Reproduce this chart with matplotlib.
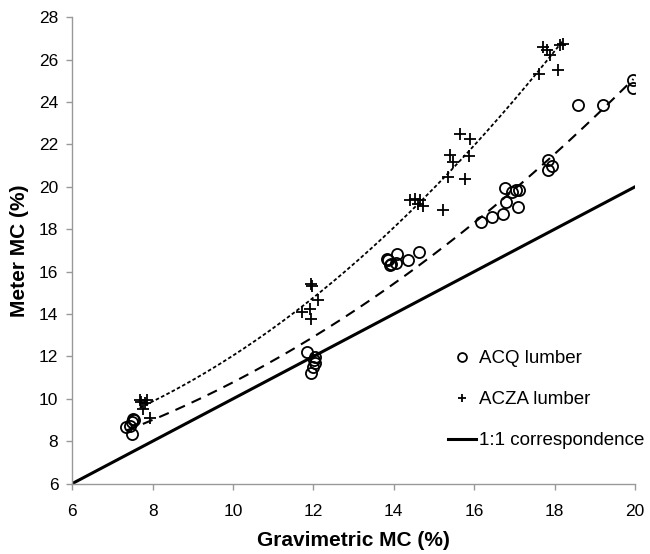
import numpy as np
import matplotlib
matplotlib.use("Agg")
import matplotlib.pyplot as plt

plt.rcParams['font.family'] = ['Liberation Sans', 'DejaVu Sans']

# ACQ treated lumber: gravimetric vs meter moisture content
acq_x = [7.35, 7.43, 7.50, 7.52, 7.55, 7.48,
         11.83, 11.95, 12.00, 12.03, 12.05, 12.02,
         13.82, 13.86, 13.94, 14.05, 14.07, 14.36, 14.62, 13.90,
         16.18, 16.43, 16.72, 16.76, 16.80, 16.93, 17.05, 17.10, 17.12,
         17.84, 17.93, 17.84, 18.59, 19.20, 19.96, 19.96]
acq_y = [8.67, 8.70, 8.36, 9.07, 9.00, 8.90,
         12.21, 11.22, 11.50, 11.70, 11.97, 11.85,
         16.61, 16.57, 16.38, 16.41, 16.85, 16.53, 16.93, 16.30,
         18.34, 18.58, 18.74, 19.96, 19.28, 19.76, 19.87, 19.05, 19.83,
         21.28, 20.97, 20.78, 23.84, 23.84, 25.02, 24.68]

# ACZA treated lumber
acza_x = [7.68, 7.85, 7.75, 7.93, 7.72, 7.80,
          11.71, 11.91, 11.95, 12.12, 11.93, 11.96,
          14.40, 14.53, 14.65, 14.73, 14.60, 15.23,
          15.64, 15.89, 15.40, 15.48, 15.88, 15.35, 15.77,
          17.72, 17.80, 18.13, 18.21, 17.88, 17.62, 18.09]
acza_y = [9.96, 9.93, 9.54, 9.11, 9.85, 9.80,
          14.10, 14.25, 13.78, 14.64, 15.40, 15.30,
          19.36, 19.44, 19.36, 19.08, 19.20, 18.89,
          22.50, 22.27, 21.49, 21.17, 21.44, 20.46, 20.35,
          26.60, 26.47, 26.67, 26.75, 26.20, 25.30, 25.50]

one_to_one = [6, 20]


def trend(x, y):
    # second order polynomial trend line over the data range
    c = np.polyfit(x, y, 2)
    xs = np.linspace(min(x), max(x), 200)
    return xs, np.polyval(c, xs)


fig = plt.figure(figsize=(6.5, 5.54), dpi=100)
ax = fig.add_axes([0.111, 0.127, 0.866, 0.842])

ax.plot(one_to_one, one_to_one, color='black', lw=2.2, label='1:1 correspondence', zorder=2)

xs, ys = trend(acq_x, acq_y)
ax.plot(xs, ys, color='black', lw=1.5, linestyle=(0, (5, 3.5)), zorder=2)
xs, ys = trend(acza_x, acza_y)
ax.plot(xs, ys, color='black', lw=1.3, linestyle=(0, (2, 1.3)), zorder=2)

ax.plot(acq_x, acq_y, linestyle='none', marker='o', ms=8, mfc='none', mec='black', mew=1.3,
        label='ACQ lumber', zorder=3)
ax.plot(acza_x, acza_y, linestyle='none', marker='+', ms=8, mec='black', mew=1.3,
        label='ACZA lumber', zorder=3)

ax.set_xlim(6, 20)
ax.set_ylim(6, 28)
ax.set_xticks(range(6, 21, 2))
ax.set_yticks(range(6, 29, 2))

for side in ['top', 'right']:
    ax.spines[side].set_visible(False)
for side in ['left', 'bottom']:
    ax.spines[side].set_color('#999999')
    ax.spines[side].set_linewidth(1.0)
ax.tick_params(direction='out', length=4, width=1, color='#999999', labelsize=12.5)
ax.tick_params(axis='x', pad=11)
ax.tick_params(axis='y', pad=6)

ax.set_xlabel('Gravimetric MC (%)', fontsize=15, fontweight='bold', labelpad=8.5)
ax.set_ylabel('Meter MC (%)', fontsize=15, fontweight='bold', labelpad=7)

h, l = ax.get_legend_handles_labels()
order = [1, 2, 0]
leg = ax.legend([h[i] for i in order], [l[i] for i in order], frameon=False,
                loc='center left', bbox_to_anchor=(0.654, 0.18), borderaxespad=0,
                fontsize=13.5, handlelength=1.5, handletextpad=0.15, labelspacing=1.28,
                markerscale=0.8)

fig.savefig('out.png', dpi=100)
